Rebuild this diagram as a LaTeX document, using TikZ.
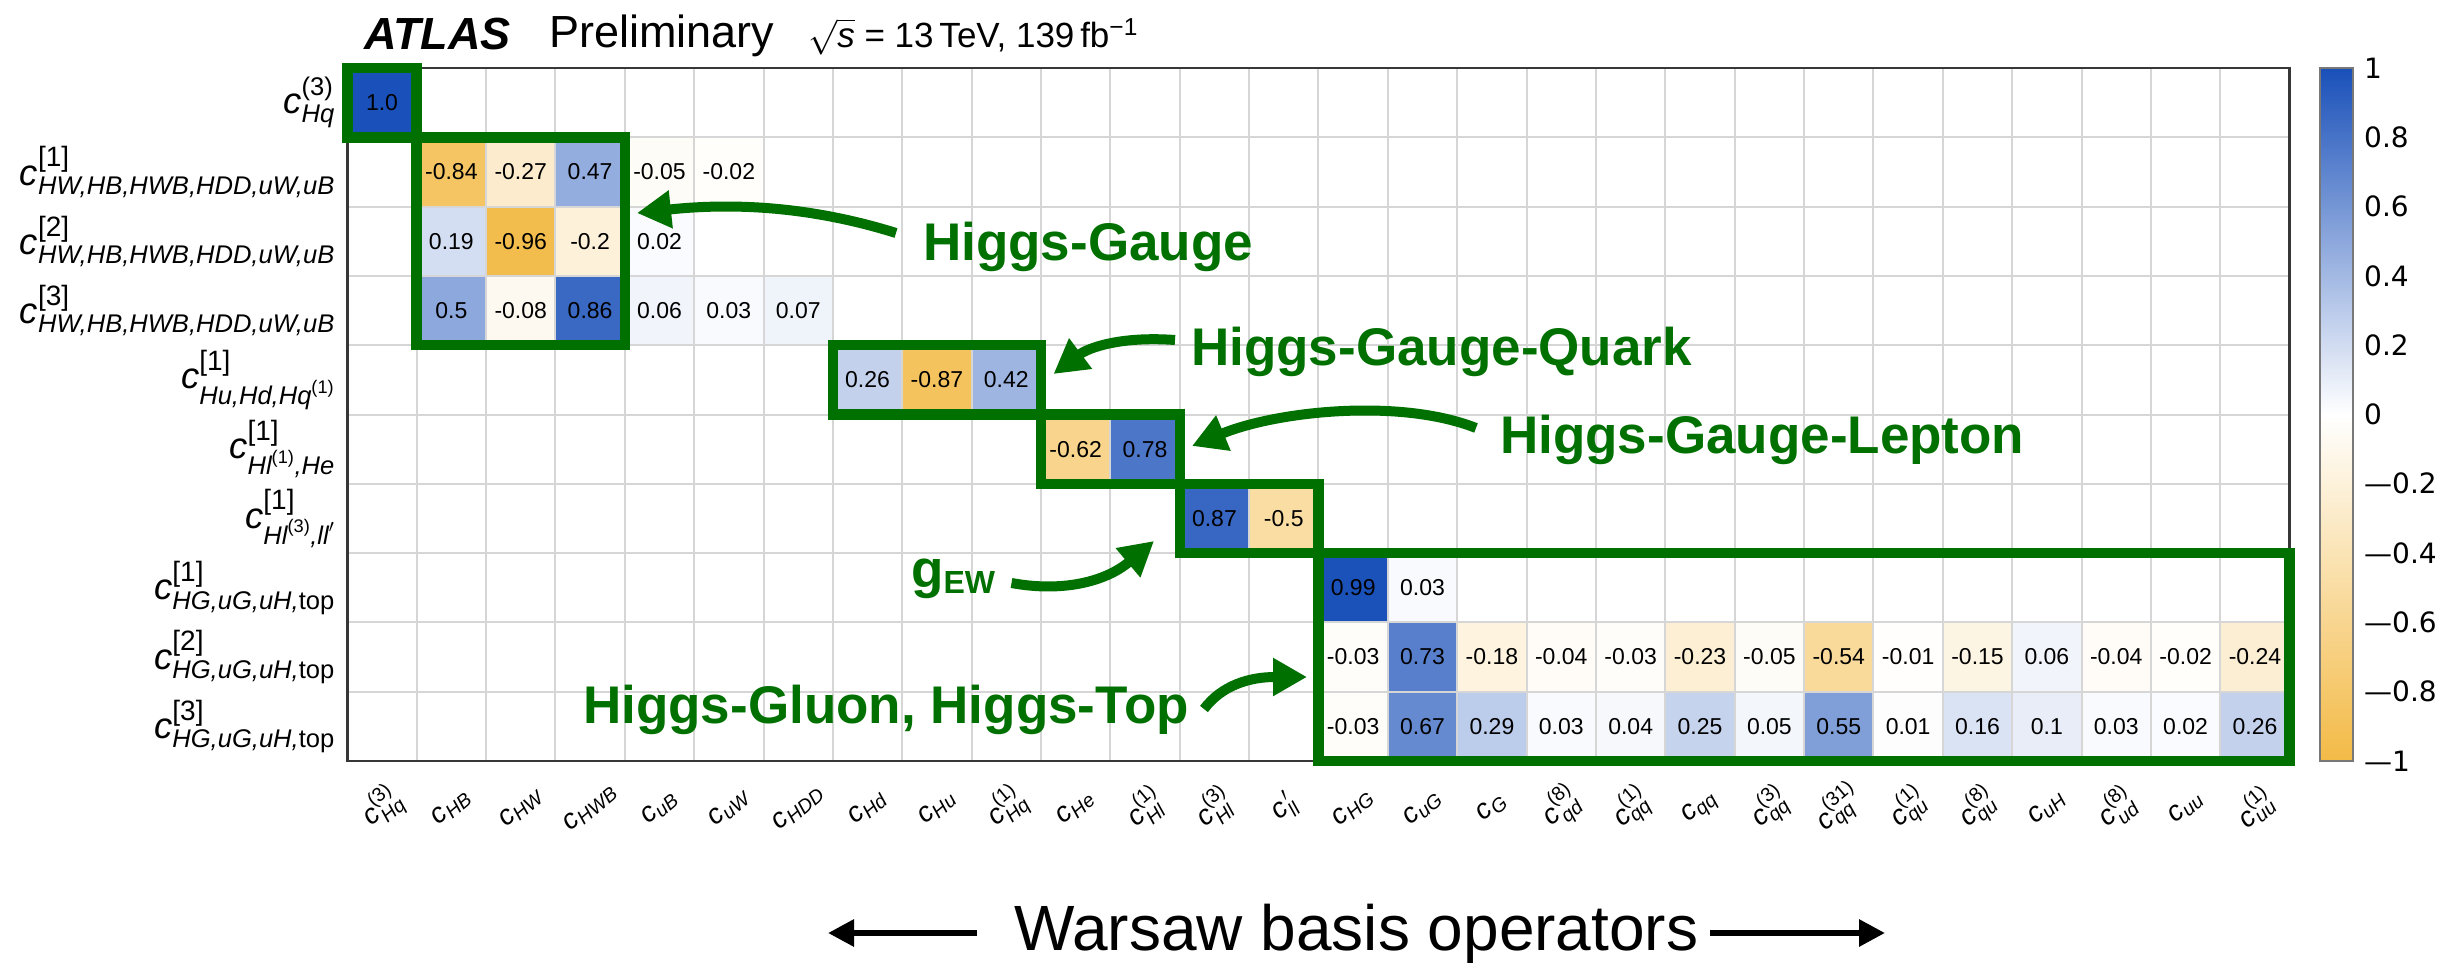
\RequirePackage{fix-cm}
\documentclass[tikz,border=0pt]{standalone}
\usepackage{amsmath}
\usepackage{fontspec}
\setmainfont{Liberation Sans}
\newfontfamily\djvfont{DejaVu Sans}
\usetikzlibrary{arrows.meta}
\definecolor{cpos}{RGB}{25,80,185}
\definecolor{cneg}{RGB}{243,186,70}
\definecolor{agreen}{RGB}{0,112,0}
\definecolor{gridc}{RGB}{214,214,214}
\definecolor{framec}{RGB}{55,55,55}
\definecolor{cbframe}{RGB}{120,120,120}
\newcommand\fsz[1]{\fontsize{#1}{#1}\selectfont}
\newcommand\itx[1]{\text{\itshape #1}}
\newcommand\upx[1]{\text{\upshape #1}}
\newcommand\bsz[1]{\text{\fsz{28}[#1]}}
\newcommand\opa[1]{$\itx{c}_{\itx{#1}}$}
\newcommand\opb[2]{$\itx{c}^{\upx{#2}}_{\itx{#1}}$}
\begin{document}
\begin{tikzpicture}[x=1pt,y=-1pt,
  cellv/.style={minimum width=69.37pt,minimum height=69.3pt,inner sep=0pt,outer sep=0pt,font=\fsz{23}},
  rowlab/.style={anchor=east,inner sep=0pt,font=\fsz{36.5}},
  collab/.style={anchor=center,inner sep=0pt,rotate=40,font=\fsz{28}},
  gridline/.style={draw=gridc,line width=2pt},
  gbox/.style={draw=agreen,line width=10.5pt},
  garrow/.style={draw=agreen,line width=10pt,-{Triangle[length=34pt,width=36pt]}},
  ann/.style={text=agreen,font=\fsz{53}\bfseries,inner sep=0pt,anchor=base west},
  cblab/.style={anchor=west,inner sep=0pt,font=\djvfont\fsz{28}},
  karrow/.style={draw=black,line width=6pt,-{Triangle[length=26pt,width=26pt]}},
  ttl/.style={anchor=base west,inner sep=0pt}
]
\useasboundingbox (0,0) rectangle (2453,963);
\fill[white] (0,0) rectangle (2453,963);
% cells
\foreach \r/\c/\v in {1/1/1.0,
 2/2/-0.84,2/3/-0.27,2/4/0.47,2/5/-0.05,2/6/-0.02,
 3/2/0.19,3/3/-0.96,3/4/-0.2,3/5/0.02,
 4/2/0.5,4/3/-0.08,4/4/0.86,4/5/0.06,4/6/0.03,4/7/0.07,
 5/8/0.26,5/9/-0.87,5/10/0.42,
 6/11/-0.62,6/12/0.78,
 7/13/0.87,7/14/-0.5,
 8/15/0.99,8/16/0.03,
 9/15/-0.03,9/16/0.73,9/17/-0.18,9/18/-0.04,9/19/-0.03,9/20/-0.23,9/21/-0.05,9/22/-0.54,9/23/-0.01,9/24/-0.15,9/25/0.06,9/26/-0.04,9/27/-0.02,9/28/-0.24,
 10/15/-0.03,10/16/0.67,10/17/0.29,10/18/0.03,10/19/0.04,10/20/0.25,10/21/0.05,10/22/0.55,10/23/0.01,10/24/0.16,10/25/0.1,10/26/0.03,10/27/0.02,10/28/0.26}{
  \pgfmathsetmacro\cx{347.3+(\c-0.5)*69.37}
  \pgfmathsetmacro\cy{68+(\r-0.5)*69.3}
  \pgfmathtruncatemacro\pc{round(abs(\v)*100)}
  \pgfmathtruncatemacro\isneg{\v<0}
  \ifnum\isneg=1 \def\cc{cneg}\else\def\cc{cpos}\fi
  \node[cellv,fill=\cc!\pc!white] (cell-\r-\c) at (\cx,\cy) {\v};
}
% grid
\foreach \i in {1,...,27} \draw[gridline] ({347.3+\i*69.37},68) -- ({347.3+\i*69.37},761);
\foreach \j in {1,...,9} \draw[gridline] (347.3,{68+\j*69.3}) -- (2289.7,{68+\j*69.3});
\draw[draw=framec,line width=2.5pt] (347.3,68) rectangle (2289.7,761);
% green boxes
\draw[gbox] (cell-1-1.north west) rectangle (cell-1-1.south east);
\draw[gbox] (cell-2-2.north west) rectangle (cell-4-4.south east);
\draw[gbox] (cell-5-8.north west) rectangle (cell-5-10.south east);
\draw[gbox] (cell-6-11.north west) rectangle (cell-6-12.south east);
\draw[gbox] (cell-7-13.north west) rectangle (cell-7-14.south east);
\draw[gbox] (cell-8-15.north west) rectangle (cell-10-28.south east);
% row labels
\node[rowlab] (rl1) at (335,102.65) {$\itx{c}^{\upx{(3)}}_{\itx{Hq}}$};
\node[rowlab] (rl2) at (335,171.95) {$\itx{c}^{\bsz{1}}_{\itx{HW,HB,HWB,HDD,uW,uB}}$};
\node[rowlab] (rl3) at (335,241.25) {$\itx{c}^{\bsz{2}}_{\itx{HW,HB,HWB,HDD,uW,uB}}$};
\node[rowlab] (rl4) at (335,310.55) {$\itx{c}^{\bsz{3}}_{\itx{HW,HB,HWB,HDD,uW,uB}}$};
\node[rowlab] (rl5) at (335,379.85) {$\itx{c}^{\bsz{1}}_{\itx{Hu,Hd,Hq}^{\upx{(1)}}}$};
\node[rowlab] (rl6) at (335,449.15) {$\itx{c}^{\bsz{1}}_{\itx{Hl}^{\upx{(1)}}\itx{,He}}$};
\node[rowlab] (rl7) at (335,518.45) {$\itx{c}^{\bsz{1}}_{\itx{Hl}^{\upx{(3)}}\itx{,ll}'}$};
\node[rowlab] (rl8) at (335,587.75) {$\itx{c}^{\bsz{1}}_{\itx{HG,uG,uH,}\upx{top}}$};
\node[rowlab] (rl9) at (335,657.05) {$\itx{c}^{\bsz{2}}_{\itx{HG,uG,uH,}\upx{top}}$};
\node[rowlab] (rl10) at (335,726.35) {$\itx{c}^{\bsz{3}}_{\itx{HG,uG,uH,}\upx{top}}$};
% column labels
\foreach \i/\t in {1/{\opb{Hq}{(3)}},2/{\opa{HB}},3/{\opa{HW}},4/{\opa{HWB}},5/{\opa{uB}},6/{\opa{uW}},7/{\opa{HDD}},8/{\opa{Hd}},9/{\opa{Hu}},10/{\opb{Hq}{(1)}},11/{\opa{He}},12/{\opb{Hl}{(1)}},13/{\opb{Hl}{(3)}},14/{$\itx{c}^{\,\prime}_{\itx{ll}}$},15/{\opa{HG}},16/{\opa{uG}},17/{\opa{G}},18/{\opb{qd}{(8)}},19/{\opb{qq}{(1)}},20/{\opa{qq}},21/{\opb{qq}{(3)}},22/{\opb{qq}{(31)}},23/{\opb{qu}{(1)}},24/{\opb{qu}{(8)}},25/{\opa{uH}},26/{\opb{ud}{(8)}},27/{\opa{uu}},28/{\opb{uu}{(1)}}}{
  \pgfmathsetmacro\cx{347.3+(\i-0.5)*69.37}
  \node[collab] (cl\i) at (\cx,808) {\t};
}
% colour bar
\shade[top color=cpos,bottom color=cneg,middle color=white] (2320,68) rectangle (2353,761);
\draw[draw=cbframe,line width=2pt] (2320,68) rectangle (2353,761);
\foreach \i/\t in {0/1,1/0.8,2/0.6,3/0.4,4/0.2,5/0,6/—0.2,7/—0.4,8/—0.6,9/—0.8,10/—1}
  \node[cblab] (cb\i) at (2364,{68+\i*69.3}) {\t};
% title
\node[ttl,font=\fsz{45}\bfseries\itshape] (atlas) at (364,50) {ATLAS};
\node[ttl,font=\fsz{45}] (prelim) at (549,48) {Preliminary};
\node[ttl,font=\fsz{35}] (energy) at (808,48) {$\sqrt{\itx{s}}$ = 13\,TeV, 139\,fb\textsuperscript{−1}};
% annotations
\node[ann] (tHG) at (923,260) {Higgs-Gauge};
\node[ann] (tHGQ) at (1191,365) {Higgs-Gauge-Quark};
\node[ann] (tHGL) at (1500,453) {Higgs-Gauge-Lepton};
\node[ann] (tEW) at (911,587) {g\raisebox{-6pt}{\fsz{32}EW}};
\node[ann] (tHT) at (583,723) {Higgs-Gluon, Higgs-Top};
\coordinate (aHGs) at (896,233);   \coordinate (aHGe) at (637,213);
\coordinate (aHGQs) at (1175,340); \coordinate (aHGQe) at (1053.5,374);
\coordinate (aHGLs) at (1476,428); \coordinate (aHGLe) at (1192,446);
\coordinate (aEWs) at (1011.5,583); \coordinate (aEWe) at (1154,541);
\coordinate (aHTs) at (1204,709);  \coordinate (aHTe) at (1307,677);
\draw[garrow] (aHGs) .. controls (816,208) and (739,202) .. (aHGe);
\draw[garrow] (aHGQs) .. controls (1120,336) and (1088,348) .. (aHGQe);
\draw[garrow] (aHGLs) .. controls (1400,398) and (1277,411) .. (aHGLe);
\draw[garrow] (aEWs) .. controls (1060,592) and (1104,583) .. (aEWe);
\draw[garrow] (aHTs) .. controls (1222,685) and (1250,677) .. (aHTe);
% x-axis title
\node[ttl,font=\fsz{64}] (warsaw) at (1014,950) {Warsaw basis operators};
\coordinate (wl1) at (977,933); \coordinate (wl2) at (828,933);
\coordinate (wr1) at (1710,933); \coordinate (wr2) at (1885,933);
\draw[karrow] (wl1) -- (wl2);
\draw[karrow] (wr1) -- (wr2);
\end{tikzpicture}
\end{document}
